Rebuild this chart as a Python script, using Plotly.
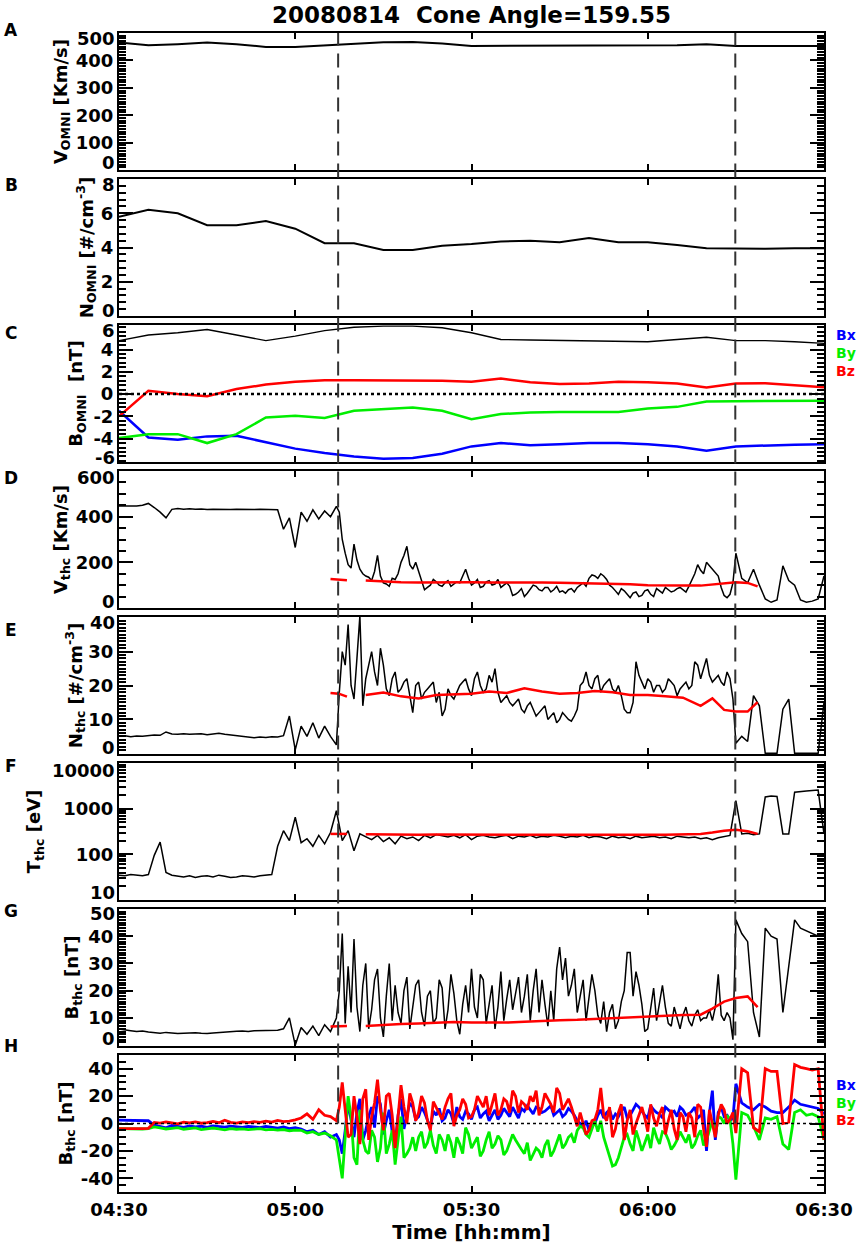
import plotly.graph_objects as go
from plotly.subplots import make_subplots

# time in minutes after 04:30 UT
t_omni = list(range(0, 121, 5))
t_thc = list(range(0, 121))
t_half = [37.5 + k for k in range(68)]          # extra half-minute samples in the turbulent interval
t_model = [36, 37.4, 38.8, 40.5, 42, 45, 48, 51, 54, 57, 60, 63, 66, 69, 72, 75, 78, 81, 84, 87,
           90, 93, 96, 99, 101, 103, 105, 107, 108.7]
time_ticks = [0, 30, 60, 90, 120]
time_labels = ['04:30', '05:00', '05:30', '06:00', '06:30']
event_times = [37.3, 104.9]

# OMNI solar wind (5 min)
v_omni = [465, 455, 459, 465, 459, 449, 449, 455, 461, 466, 467, 462, 453, 453, 455, 453, 453, 455,
          453, 455, 459, 453, 453, 453, 453]
n_omni = [5.8, 6.2, 6.0, 5.3, 5.3, 5.55, 5.1, 4.25, 4.25, 3.85, 3.85, 4.1, 4.2, 4.35, 4.4, 4.3, 4.55,
          4.3, 4.3, 4.15, 3.95, 3.93, 3.93, 3.95, 3.95]
b_omni = [4.8, 5.3, 5.5, 5.8, 5.3, 4.8, 5.2, 5.7, 6.0, 6.1, 6.1, 5.95, 5.5, 4.9, 4.85, 4.8, 4.75, 4.7,
          4.7, 4.9, 5.1, 4.8, 4.8, 4.7, 4.55]
bx_omni = [-1.5, -3.9, -4.1, -3.8, -3.75, -4.3, -4.9, -5.3, -5.6, -5.8, -5.75, -5.35, -4.7, -4.4, -4.6,
           -4.5, -4.4, -4.4, -4.5, -4.7, -5.1, -4.7, -4.6, -4.55, -4.5]
by_omni = [-3.95, -3.6, -3.6, -4.4, -3.6, -2.1, -1.95, -2.15, -1.5, -1.35, -1.2, -1.5, -2.25, -1.8,
           -1.65, -1.6, -1.6, -1.6, -1.3, -1.15, -0.66, -0.66, -0.6, -0.6, -0.6]
bz_omni = [-2.0, 0.3, 0.0, -0.2, 0.45, 0.85, 1.1, 1.25, 1.25, 1.25, 1.25, 1.2, 1.1, 1.4, 1.05, 0.9,
           0.95, 1.1, 1.05, 0.95, 0.6, 0.95, 0.98, 0.8, 0.6]

# THEMIS-C (1 min)
v_thc = [447, 447, 446, 447, 450, 458, 440, 420, 395, 432,
         436, 433, 435, 432, 434, 431, 433, 432, 434, 431,
         433, 432, 434, 431, 433, 432, 431, 430, 345, 395,
         265, 420, 380, 430, 390, 425, 400, 445, 300, 190,
         280, 170, 140, 120, 230, 110, 95, 125, 200, 270,
         170, 160, 80, 100, 115, 95, 120, 105, 110, 170,
         100, 125, 95, 120, 105, 90, 110, 55, 70, 50,
         85, 95, 75, 90, 80, 70, 65, 85, 90, 110,
         130, 140, 150, 125, 90, 60, 75, 45, 70, 55,
         80, 50, 75, 90, 70, 85, 80, 95, 150, 165,
         200, 170, 140, 55, 60, 240, 130, 110, 170, 100,
         40, 25, 35, 185, 120, 100, 35, 25, 30, 40, 140]
n_thc = [5.0, 5.2, 4.9, 5.1, 5.0, 5.2, 5.4, 5.3, 6.3, 5.7,
         5.6, 5.8, 5.6, 5.7, 5.8, 5.5, 5.7, 5.9, 5.6, 5.4,
         5.3, 5.0, 4.7, 4.6, 4.8, 4.7, 4.9, 4.8, 5.2, 11.0,
         1.0, 8.0, 5.0, 9.0, 4.5, 8.0, 5.0, 2.5, 30.0, 38.0,
         16.0, 40.5, 22.0, 30.0, 20.0, 26.0, 17.0, 24.0, 19.0, 22.0,
         12.0, 21.0, 18.0, 20.0, 15.0, 11.0, 19.0, 16.0, 20.0, 22.0,
         17.0, 24.0, 18.0, 23.0, 25.0, 15.0, 17.0, 14.0, 16.0, 12.0,
         15.0, 11.0, 13.0, 10.0, 12.0, 10.0, 11.0, 9.5, 13.0, 21.0,
         20.0, 22.0, 18.0, 21.0, 19.0, 20.0, 13.0, 12.0, 27.0, 21.0,
         22.0, 18.0, 20.0, 19.0, 21.0, 17.0, 20.0, 19.0, 27.0, 22.0,
         28.0, 21.0, 23.0, 20.0, 22.0, 3.0, 5.0, 3.5, 17.0, 14.0,
         0, 0, 0, 13.0, 16.0, 0, 0, 0, 0, 0, 15.0]
temp_thc = [35, 34, 36, 35, 34, 36, 95, 185, 40, 35,
            33, 32, 34, 31, 33, 34, 32, 35, 33, 31,
            32, 34, 33, 32, 34, 35, 36, 150, 330, 200,
            650, 180, 220, 150, 260, 170, 300, 900, 200, 330,
            120, 280, 240, 210, 260, 190, 230, 170, 250, 220,
            240, 200, 260, 230, 270, 250, 240, 260, 230, 270,
            210, 250, 260, 240, 230, 250, 260, 220, 250, 240,
            260, 230, 250, 240, 260, 250, 230, 250, 240, 260,
            230, 250, 240, 220, 250, 230, 240, 220, 250, 230,
            240, 250, 230, 240, 220, 250, 240, 230, 240, 220,
            230, 210, 230, 240, 260, 1500, 280, 290, 270, 280,
            1800, 1900, 1850, 280, 280, 2300, 2400, 2450, 2500, 2550, 280]
b_thc = [5.9, 5.5, 5.3, 5.0, 5.2, 4.8, 4.6, 4.4, 4.7, 4.5,
         4.3, 4.4, 4.5, 4.6, 4.4, 4.3, 4.5, 4.7, 4.8, 5.0,
         5.1, 5.2, 5.0, 5.3, 5.4, 5.5, 5.6, 5.5, 6.0, 10.0,
         0.0, 6.5, 4.0, 7.0, 3.5, 7.5, 5.0, 10.0, 41.0, 29.0,
         39.0, 5.0, 30.0, 13.0, 28.0, 3.0, 30.0, 22.0, 8.0, 25.0,
         14.0, 24.0, 7.0, 20.0, 10.0, 21.0, 13.0, 19.0, 4.0, 22.0,
         28.0, 10.0, 24.0, 15.0, 6.0, 27.0, 17.0, 13.0, 25.0, 18.0,
         9.0, 28.0, 24.0, 7.0, 9.0, 36.0, 32.0, 22.0, 12.0, 24.0,
         18.0, 20.0, 8.0, 5.0, 15.0, 9.0, 20.0, 34.0, 27.0, 15.0,
         6.0, 21.0, 15.0, 14.0, 7.0, 10.0, 11.0, 9.0, 11.0, 9.0,
         10.0, 9.0, 26.0, 9.0, 10.0, 46.0, 41.0, 38.0, 12.0, 3.0,
         43.0, 40.0, 39.0, 12.0, 30.0, 46.0, 43.0, 42.0, 41.0, 40.0, 41.0]
bx_thc = [2.4, 2.4, 2.2, 2.5, 2.3, 2.0,
          -1.2, -2.0, -3.2, -1.5, -2.2, -2.8, -1.8, -2.5, -2.0, -2.9, -1.7, -2.3, -2.6, -1.9,
          -2.4, -2.8, -2.1, -2.5, -3.0, -2.2, -2.7, -3.4, -2.6, -3.8, -3.1,
          -4, -6, -5, -8, -6, -10, -8,
          -22, 15, -10, 18, -5, 12, 20, -8, 10, -15, 18, 5, 12,
          5, 8, -3, 6, 2, 10, 0, 5, 9, 3, 12, 7, 2, 10, 6, 8, 12, 4, 9, 10, 12, 8, 11, 6, 10, 7,
          9, 2, -3, -5, 0, 10, 8, 3, 5, 12, 6, 14, 9, 4, 10, 7, 12, 8, 5, 10, 7, 12, 6, -20, 24,
          8, 5, 2,
          29, 15, 12, 10, 14, 12, 9, 8, 8, 12, 17, 14, 13, 12, 11, 7]
by_thc = [-3.7, -3.9, -3.6, -3.8, -4.0, -3.7,
          -2.5, -3.2, -4.0, -3.5, -3.0, -4.2, -3.6, -3.2, -4.4, -3.8, -3.3, -4.0, -4.6, -3.7,
          -4.2, -3.9, -4.5, -4.1, -3.8, -4.7, -4.3, -4.9, -4.4, -5.3, -4.8,
          -5, -7, -6, -8, -7, -9, -12,
          -40, 20, -25, 10, -20, -5, -28, 8, -15, -30, 5, -22, -10,
          -10, -18, -5, -22, -12, -8, -25, -15, -3, -18, -10, -20, -6, -15, -12, -20, -8, -16,
          -22, -27, -18, -25, -12, -20, -8, -15,
          -8, -5, -3, -10, 2, 2, -18, -31, -25, -10, -15, -5, -20, -8, -3, -15, -7, -19, -12,
          -10, -8, -15, -5, -12, 2, 5, 0, 3,
          -41, 8, 6, -2, -12, 4, 3, 5, -15, -19, 8, 10, 6, 7, 5, -12]
bz_thc = [-3.7, -3.8, -3.6, -3.9, -3.7, -3.5,
          0.8, 0.3, 1.2, 0.5, -0.3, 0.9, 0.4, 1.1, 0.2, 0.7, 1.5, 0.6, 2.4, 0.8,
          0.3, 1.2, 0.6, 1.4, 0.9, 1.7, 1.0, 2.2, 1.4, 1.8, 2.6,
          4, 7, 3, 10, 6, 5, 2,
          30, -10, 20, -15, 25, 5, 32, -5, 22, -18, 28, 0, 15,
          8, 15, -5, 12, 3, 18, -2, 10, 14, 5, 20, 12, 6, 22, 10, 16, 24, 8, 14, 20, 24, 12, 18,
          8, 22, 14,
          12, -2, 0, -5, 3, 26, 2, -10, 8, -12, 10, 0, 12, -6, 4, 7, -8, 10, -12, 5, 8, -10,
          12, -17, 0, 6, 10, 3,
          -7, 40, 37, -3, -6, 40, 38, 38, 0, 1, 43, 41, 40, 39, 40, -12]

# half-minute samples (t_half) read in the turbulent magnetosheath interval
v_half = [420, 240, 175, 210, 150, 135, 160, 140, 105, 130,
          150, 230, 190, 200, 110, 90, 125, 100, 110, 95,
          115, 140, 130, 110, 90, 115, 100, 125, 100, 95,
          60, 85, 65, 100, 80, 90, 70, 95, 75, 80,
          70, 100, 95, 145, 130, 140, 100, 75, 85, 60,
          65, 50, 75, 60, 85, 65, 80, 75, 90, 70,
          120, 190, 150, 185, 160, 90, 45, 110]
n_half = [18, 26, 20, 28, 14, 26, 24, 31, 19, 22,
          18, 21, 17, 20, 16, 19, 21, 18, 13, 17,
          18, 21, 19, 22, 20, 19, 21, 18, 16, 15,
          15, 13, 14, 13, 12, 14, 11, 9, 12, 10,
          11, 20, 24, 19, 23, 20, 22, 18, 17, 12,
          15, 23, 19, 21, 20, 18, 22, 20, 19, 21,
          20, 26, 25, 23, 22, 21, 24, 16]
b_half = [20, 8, 12, 14, 22, 6, 24, 10, 18, 9,
          12, 20, 6, 22, 12, 18, 8, 24, 6, 26,
          9, 15, 12, 14, 26, 8, 22, 14, 9, 24,
          19, 12, 26, 20, 12, 15, 20, 28, 24, 18,
          28, 18, 9, 26, 11, 16, 12, 6, 16, 34,
          18, 22, 5, 14, 9, 22, 8, 14, 6, 14,
          7, 13, 10, 13, 14, 11, 12, 2]
bx_half = [-12, -5, 3, 8, -12, 5, -3, 14, 2, -6,
           6, -4, 15, 3, 12, 2, 9, 11, 4, 7,
           12, 3, 7, 10, 4, 9, 6, 3, 11, 5,
           8, 11, 13, 7, 11, 9, 13, 8, 5, 11,
           6, 0, 2, -2, 6, 4, 10, 7, 9, 4,
           10, 12, 6, 13, 8, 4, 10, 9, 12, 6,
           9, 4, 10, 8, -12, 12, 6, 4]
by_half = [-25, -10, 5, -30, -12, -22, -10, -18, -22, -5,
           -12, -25, -18, -20, -6, -14, -16, -8, -20, -14,
           -10, -22, -8, -14, -24, -12, -18, -9, -23, -14,
           -12, -19, -14, -22, -20, -16, -24, -14, -18, -10,
           -14, -2, -8, -4, -6, -10, -24, -30, -18, -8,
           -20, -12, -14, -18, -10, -6, -12, -16, -6, -14,
           -18, -9, -16, -4, -8, 4, 6, -15]
bz_half = [12, 10, -8, 5, 18, -12, 15, 10, 20, 6,
           5, 12, 22, 2, 20, 2, 16, 8, 12, 22,
           6, 18, 4, 10, 16, 20, 14, 6, 18, 8,
           20, 16, 10, 16, 6, 22, 14, 26, 10, 18,
           4, 8, -8, 2, 10, 6, 12, -4, 14, 2,
           -8, 6, 4, 14, -2, 12, 2, -4, 8, -6,
           4, 14, -4, 10, -10, 14, 0, 8]

# model (red) curves
v_model = [127, 125, 122, None, 120, 115, 113, 112, 113, 114, 113, 112, 113, 114, 112, 111, 110,
           107, 106, 104, 100, 98, 98, 98, 102, 108, 113, 110, 95]
n_model = [17.8, 17.6, 16.7, None, 17.2, 17.9, 16.8, 16.2, 17.2, 17.3, 17.6, 18.2, 17.8, 19.2, 18.2,
           17.6, 17.8, 18.4, 18.0, 17.2, 17.2, 16.8, 16.4, 14.0, 16.2, 12.8, 12.3, 12.3, 15.1]
t_model_vals = [280, 280, 280, None, 275, 270, 268, 270, 272, 270, 268, 270, 272, 270, 268, 270, 268,
                270, 268, 266, 268, 270, 272, 280, 300, 330, 345, 320, 280]
b_model = [6.9, 6.9, 7.0, None, 7.0, 7.5, 7.8, 8.0, 8.3, 8.5, 8.3, 8.2, 8.3, 8.6, 9.0, 9.2, 9.3, 9.6,
           10.0, 10.3, 10.6, 10.9, 11.1, 11.2, 13.4, 16.0, 17.3, 17.9, 14.0]

FONT = 'DejaVu Sans, Verdana, sans-serif'
BLUE, GREEN, RED = '#0000ff', '#00ee00', '#ff0000'


def merged(vals, extra):
    pairs = sorted(zip(t_thc + t_half, vals + extra))
    return [p[0] for p in pairs], [p[1] for p in pairs]


fig = make_subplots(rows=8, cols=1, shared_xaxes=True, vertical_spacing=9 / 1159)


def line(x, y, row, color='black', width=1.5, dash=None):
    fig.add_trace(go.Scatter(x=x, y=y, mode='lines', line=dict(color=color, width=width, dash=dash),
                             connectgaps=False, showlegend=False), row=row, col=1)


line(t_omni, v_omni, 1, width=2)
line(t_omni, n_omni, 2, width=2)
line(t_omni, b_omni, 3, width=1.4)
line(t_omni, bx_omni, 3, BLUE, 2.5)
line(t_omni, by_omni, 3, GREEN, 2.5)
line(t_omni, bz_omni, 3, RED, 2.5)
line([0, 120], [0, 0], 3, width=2.5, dash='dot')
line(*merged(v_thc, v_half), 4, width=1.5)
line(t_model, v_model, 4, RED, 2.5)
line(*merged(n_thc, n_half), 5, width=1.5)
line(t_model, n_model, 5, RED, 2.5)
line(t_thc, temp_thc, 6, width=1.5)
line(t_model, t_model_vals, 6, RED, 2.5)
line(*merged(b_thc, b_half), 7, width=1.5)
line(t_model, b_model, 7, RED, 2.5)
line(*merged(bx_thc, bx_half), 8, BLUE, 2.8)
line(*merged(by_thc, by_half), 8, GREEN, 2.8)
line(*merged(bz_thc, bz_half), 8, RED, 2.8)
line([0, 120], [0, 0], 8, width=1.5, dash='dot')

tick_font = dict(family=FONT, size=18, color='black', weight='bold')
title_font = dict(family=FONT, size=18, color='black', weight='bold')

fig.update_xaxes(range=[0, 120], tickvals=time_ticks, ticktext=time_labels, ticks='inside', ticklen=6,
                 tickwidth=2, tickcolor='black', showline=True, linewidth=2, linecolor='black',
                 mirror='allticks', showgrid=False, zeroline=False, showticklabels=False,
                 tickfont=tick_font)
fig.update_xaxes(showticklabels=True, row=8, col=1,
                 title=dict(text='Time [hh:mm]', font=dict(family=FONT, size=20, color='black',
                                                          weight='bold'), standoff=2))

# (title, range, tick values, minor step, axis type, title standoff)
panels = [
    ('V<sub>OMNI</sub> [Km/s]', [0, 500], [0, 100, 200, 300, 400, 500], 10, 'linear', 4),
    ('N<sub>OMNI</sub> [#/cm<sup>-3</sup>]', [0, 8], [0, 2, 4, 6, 8], 0.4, 'linear', 3),
    ('B<sub>OMNI</sub>  [nT]', [-6.1, 6.2], [-6, -4, -2, 0, 2, 4, 6], 0.4, 'linear', 6),
    ('V<sub>thc</sub> [Km/s]', [0, 600], [0, 200, 400, 600], 50, 'linear', 4),
    ('N<sub>thc</sub> [#/cm<sup>-3</sup>]', [-0.2, 40.2], [0, 10, 20, 30, 40], 1, 'linear', 0),
    ('T<sub>thc</sub> [eV]', [1, 4], [10, 100, 1000, 10000], None, 'log', 18),
    ('B<sub>thc</sub> [nT]', [-0.3, 50], [0, 10, 20, 30, 40, 50], 1, 'linear', 5),
    ('B<sub>thc</sub> [nT]', [-50, 50], [-40, -20, 0, 20, 40], 5, 'linear', 4),
]
# labels at the very ends of an axis are nudged inwards, as in the original
edge_shift = {1: {500: -5, 0: 8}, 2: {8: -6, 0: 6}, 3: {6: -3, -6: 3}, 4: {600: -7, 0: 7},
              5: {40: -5, 0: 6}, 6: {10000: -7, 10: 8}, 7: {50: -4, 0: 7}}

for i, (title, rng, tvals, minor, kind, standoff) in enumerate(panels, start=1):
    shifts = edge_shift.get(i, {})
    inner = [v for v in tvals if v not in shifts]
    if kind == 'log':
        minor_vals = [m * 10 ** e for e in (1, 2, 3) for m in range(2, 10)]
    else:
        k0 = int(round(rng[0] / minor + 0.5))
        minor_vals = [round(k * minor, 4) for k in range(k0, int(rng[1] / minor) + 1)]
    fig.update_yaxes(row=i, col=1, type=kind, range=rng, tickmode='array', tickvals=inner,
                     ticktext=[str(v) for v in inner],
                     title=dict(text=title, font=title_font, standoff=standoff),
                     ticks='inside', ticklen=14, tickwidth=2, tickcolor='black', showline=True,
                     linewidth=2, linecolor='black', mirror='allticks', showgrid=False, zeroline=False,
                     tickfont=tick_font,
                     minor=dict(ticks='inside', ticklen=7, tickwidth=1.5, tickcolor='black',
                                tickmode='array', tickvals=minor_vals, showgrid=False))
    yref = 'y' if i == 1 else 'y%d' % i
    for v, dy in shifts.items():
        yv = v if kind != 'log' else len(str(v)) - 1
        fig.add_annotation(text=str(v), xref='paper', yref=yref, x=0, y=yv,
                           xanchor='right', yanchor='middle', xshift=-2, yshift=dy,
                           showarrow=False, font=tick_font)

fig.update_layout(
    width=865, height=1251, plot_bgcolor='white', paper_bgcolor='white',
    margin=dict(l=119, r=35, t=33, b=59),
    title=dict(text='20080814\u00a0\u00a0Cone Angle=159.55', x=0.5, xref='paper', xanchor='center',
               y=1 - 15 / 1251, yref='container', yanchor='middle',
               font=dict(family=FONT, size=23, color='black', weight='bold')),
    font=dict(family=FONT, color='black'),
)

# dashed event markers: full height down to the zero line of the last panel
h_dom = fig.layout.yaxis8.domain
for t in event_times:
    fig.add_shape(type='line', xref='x8', yref='paper', x0=t, x1=t, y0=(h_dom[0] + h_dom[1]) / 2, y1=1,
                  line=dict(color='#333333', width=2, dash='14px,8px'))

# panel letters
letter_dy = [0.003, -0.005, -0.007, -0.006, -0.011, -0.003, -0.002, 0.008]
for i, letter in enumerate('ABCDEFGH', start=1):
    dom = fig.layout['yaxis' if i == 1 else 'yaxis%d' % i].domain
    fig.add_annotation(text=letter, xref='paper', yref='paper', x=-0.153, y=dom[1] + letter_dy[i - 1],
                       xanchor='center', yanchor='middle', showarrow=False,
                       font=dict(family=FONT, size=17, color='black', weight='bold'))

# component labels for panels C and H
for row in (3, 8):
    dom = fig.layout['yaxis%d' % row].domain
    off = 0.009 if row == 3 else 0.026
    for k, (name, col) in enumerate(zip(['Bx', 'By', 'Bz'], [BLUE, GREEN, RED])):
        fig.add_annotation(text=name, xref='paper', yref='paper', x=1.031,
                           y=dom[1] - off - k * 0.0152, xanchor='center', yanchor='middle',
                           showarrow=False,
                           font=dict(family=FONT, size=14, color=col, weight='bold'))

fig.write_html('out.html', config={'displayModeBar': False},
               post_script="document.body.style.margin='0px';")
